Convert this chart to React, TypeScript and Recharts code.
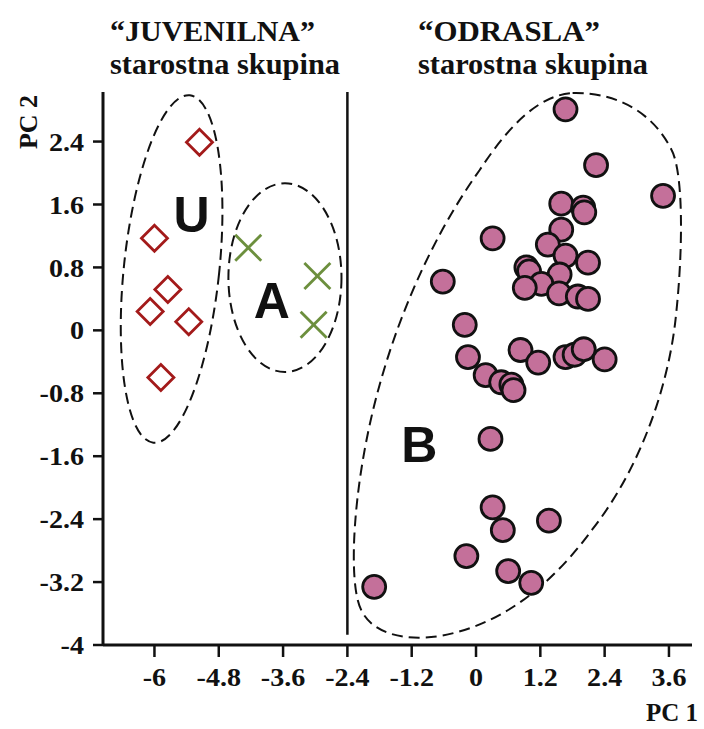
import React from "react";
import { ScatterChart, Scatter, XAxis, YAxis, ReferenceLine, ReferenceArea, ReferenceDot } from "recharts";

// group U (juvenile) – hollow diamonds
const U_POINTS = [
  { x: -5.16, y: 2.39 },
  { x: -6.0, y: 1.17 },
  { x: -5.75, y: 0.52 },
  { x: -6.08, y: 0.24 },
  { x: -5.36, y: 0.11 },
  { x: -5.88, y: -0.6 },
];

// group A (juvenile) – crosses
const A_POINTS = [
  { x: -4.25, y: 1.05 },
  { x: -2.96, y: 0.69 },
  { x: -3.03, y: 0.07 },
];

// group B (adult) – filled circles
const B_POINTS = [
  { x: 1.67, y: 2.81 },
  { x: 2.24, y: 2.1 },
  { x: 3.49, y: 1.71 },
  { x: 1.59, y: 1.61 },
  { x: 2.0, y: 1.56 },
  { x: 2.02, y: 1.5 },
  { x: 1.59, y: 1.28 },
  { x: 1.34, y: 1.09 },
  { x: 0.31, y: 1.17 },
  { x: 1.67, y: 0.95 },
  { x: 2.09, y: 0.86 },
  { x: 0.94, y: 0.8 },
  { x: 0.99, y: 0.75 },
  { x: 1.56, y: 0.71 },
  { x: 1.22, y: 0.59 },
  { x: 0.91, y: 0.54 },
  { x: 1.55, y: 0.47 },
  { x: 1.9, y: 0.43 },
  { x: 2.09, y: 0.4 },
  { x: -0.62, y: 0.62 },
  { x: -0.21, y: 0.07 },
  { x: -0.15, y: -0.34 },
  { x: 0.83, y: -0.25 },
  { x: 1.16, y: -0.41 },
  { x: 1.67, y: -0.34 },
  { x: 1.84, y: -0.31 },
  { x: 2.01, y: -0.24 },
  { x: 2.4, y: -0.37 },
  { x: 0.18, y: -0.57 },
  { x: 0.47, y: -0.66 },
  { x: 0.66, y: -0.69 },
  { x: 0.7, y: -0.76 },
  { x: 0.27, y: -1.38 },
  { x: 0.31, y: -2.25 },
  { x: 0.5, y: -2.54 },
  { x: 1.36, y: -2.42 },
  { x: -0.18, y: -2.87 },
  { x: 0.6, y: -3.06 },
  { x: 1.03, y: -3.21 },
  { x: -1.9, y: -3.26 },
];

const X_TICKS = [-6, -4.8, -3.6, -2.4, -1.2, 0, 1.2, 2.4, 3.6];
const Y_TICKS = [-4, -3.2, -2.4, -1.6, -0.8, 0, 0.8, 1.6, 2.4];

const X_DOMAIN = [-6.96, 4.03];
const Y_DOMAIN = [-4, 3.03];

// age-group divider
const DIVIDER_X = -2.4;
const DIVIDER_Y = [-3.87, 3.03];

// group labels placed at their centres
const GROUP_LABELS = [
  { name: "U", x: -5.31, y: 1.48 },
  { name: "A", x: -3.81, y: 0.39 },
  { name: "B", x: -1.06, y: -1.45 },
];

// bounding boxes of the dashed outlines around each group
const U_BOX = { x1: -6.57, x2: -4.79, y1: -1.44, y2: 3.0, tilt: 6 };
const A_BOX = { x1: -4.62, x2: -2.51, y1: -0.53, y2: 1.87, tilt: 0 };
const B_BOX = { x1: -2.3, x2: 3.87, y1: -3.9, y2: 3.03 };

// outline of B as cubic bezier points in box fractions
const B_OUTLINE = [
  [0.665, 0.002],
  [0.807, 0.0], [0.912, 0.042], [0.964, 0.106],
  [1.0, 0.147], [1.0, 0.289], [0.976, 0.418],
  [0.952, 0.546], [0.867, 0.692], [0.725, 0.802],
  [0.625, 0.885], [0.474, 0.976], [0.263, 0.998],
  [0.142, 1.009], [0.057, 0.989], [0.027, 0.952],
  [-0.009, 0.912], [-0.003, 0.784], [0.036, 0.656],
  [0.097, 0.454], [0.233, 0.271], [0.384, 0.143],
  [0.474, 0.06], [0.565, 0.005], [0.665, 0.002],
];

const SERIF = "'Liberation Serif', 'Times New Roman', serif";
const SANS = "'Liberation Sans', Arial, sans-serif";
const DASH = "11 6";
const INK = "#111";

const Diamond = (props: any) => {
  const { cx, cy } = props;
  const s = 13;
  return (
    <polygon
      points={`${cx},${cy - s} ${cx + s},${cy} ${cx},${cy + s} ${cx - s},${cy}`}
      fill="#fff"
      stroke="#a31a1a"
      strokeWidth={2.8}
    />
  );
};

const Cross = (props: any) => {
  const { cx, cy } = props;
  const s = 13;
  return (
    <g stroke="#6c8f3d" strokeWidth={2.8}>
      <line x1={cx - s} y1={cy - s} x2={cx + s} y2={cy + s} />
      <line x1={cx - s} y1={cy + s} x2={cx + s} y2={cy - s} />
    </g>
  );
};

const Dot = (props: any) => {
  const { cx, cy } = props;
  return <circle cx={cx} cy={cy} r={11.5} fill="#c4709a" stroke={INK} strokeWidth={2.8} />;
};

const ellipseShape = (tilt: number) => (props: any) => {
  const { x, y, width, height } = props;
  const cx = x + width / 2;
  const cy = y + height / 2;
  return (
    <ellipse
      cx={cx}
      cy={cy}
      rx={Math.abs(width) / 2}
      ry={Math.abs(height) / 2}
      transform={`rotate(${tilt} ${cx} ${cy})`}
      fill="none"
      stroke={INK}
      strokeWidth={2}
      strokeDasharray={DASH}
    />
  );
};

const blobShape = (props: any) => {
  const { x, y, width, height } = props;
  const pts = B_OUTLINE.map(([fx, fy]) => `${(x + fx * width).toFixed(1)} ${(y + fy * height).toFixed(1)}`);
  let d = `M ${pts[0]}`;
  for (let i = 1; i < pts.length; i += 3) {
    d += ` C ${pts[i]}, ${pts[i + 1]}, ${pts[i + 2]}`;
  }
  return <path d={d + " Z"} fill="none" stroke={INK} strokeWidth={2} strokeDasharray={DASH} />;
};

const groupLabel = (name: string) => (props: any) => (
  <text
    x={props.cx}
    y={props.cy}
    dy="0.36em"
    textAnchor="middle"
    fontFamily={SANS}
    fontWeight="bold"
    fontSize={50}
    fill={INK}
  >
    {name}
  </text>
);

// tick labels are set a little wide, like the rest of the lettering
const makeTick = (anchor: string, dy: string) => (props: any) => {
  const { x, y, payload } = props;
  return (
    <g transform={`translate(${x},${y}) scale(1.08,1)`}>
      <text
        x={0}
        y={0}
        dy={dy}
        textAnchor={anchor}
        fill={INK}
        fontSize={26}
        fontWeight="bold"
        fontFamily={SERIF}
      >
        {String(payload.value)}
      </text>
    </g>
  );
};

const XTick = makeTick("middle", "0.71em");
const YTick = makeTick("end", "0.35em");

export default function App() {
  return (
    <div style={{ position: "absolute", left: 0, top: 0, width: 704, height: 729, background: "#fff" }}>
      <ScatterChart width={704} height={729} margin={{ top: 92, right: 12, bottom: 24, left: 0 }}>
        <XAxis
          type="number"
          dataKey="x"
          domain={X_DOMAIN}
          ticks={X_TICKS}
          allowDataOverflow
          height={60}
          tickSize={12}
          tickMargin={11}
          axisLine={{ stroke: INK, strokeWidth: 3 }}
          tickLine={{ stroke: INK, strokeWidth: 2.5 }}
          tick={XTick}
        />
        <YAxis
          type="number"
          dataKey="y"
          domain={Y_DOMAIN}
          ticks={Y_TICKS}
          allowDataOverflow
          width={103}
          tickSize={10}
          tickMargin={9}
          axisLine={{ stroke: INK, strokeWidth: 3 }}
          tickLine={{ stroke: INK, strokeWidth: 2.5 }}
          tick={YTick}
        />
        <ReferenceArea {...U_BOX} ifOverflow="visible" shape={ellipseShape(U_BOX.tilt)} />
        <ReferenceArea {...A_BOX} ifOverflow="visible" shape={ellipseShape(A_BOX.tilt)} />
        <ReferenceArea {...B_BOX} ifOverflow="visible" shape={blobShape} />
        <ReferenceLine
          segment={[
            { x: DIVIDER_X, y: DIVIDER_Y[0] },
            { x: DIVIDER_X, y: DIVIDER_Y[1] },
          ]}
          stroke={INK}
          strokeWidth={2.5}
        />
        {GROUP_LABELS.map((g) => (
          <ReferenceDot key={g.name} x={g.x} y={g.y} r={1} shape={groupLabel(g.name)} />
        ))}
        <Scatter data={U_POINTS} shape={Diamond} isAnimationActive={false} />
        <Scatter data={A_POINTS} shape={Cross} isAnimationActive={false} />
        <Scatter data={B_POINTS} shape={Dot} isAnimationActive={false} />
      </ScatterChart>
      <svg
        width={704}
        height={729}
        style={{ position: "absolute", left: 0, top: 0, pointerEvents: "none" }}
      >
        <g fontFamily={SERIF} fontWeight="bold" fill={INK}>
          <text x={110} y={41} fontSize={29} textLength={205} lengthAdjust="spacingAndGlyphs">
            “JUVENILNA”
          </text>
          <text x={110} y={74} fontSize={29} textLength={230} lengthAdjust="spacingAndGlyphs">
            starostna skupina
          </text>
          <text x={418} y={41} fontSize={29} textLength={182} lengthAdjust="spacingAndGlyphs">
            “ODRASLA”
          </text>
          <text x={418} y={74} fontSize={29} textLength={230} lengthAdjust="spacingAndGlyphs">
            starostna skupina
          </text>
          <text x={672} y={721} fontSize={25} textAnchor="middle">
            PC 1
          </text>
          <text x={37} y={122} fontSize={26} textAnchor="middle" transform="rotate(-90 37 122)">
            PC 2
          </text>
        </g>
      </svg>
    </div>
  );
}
